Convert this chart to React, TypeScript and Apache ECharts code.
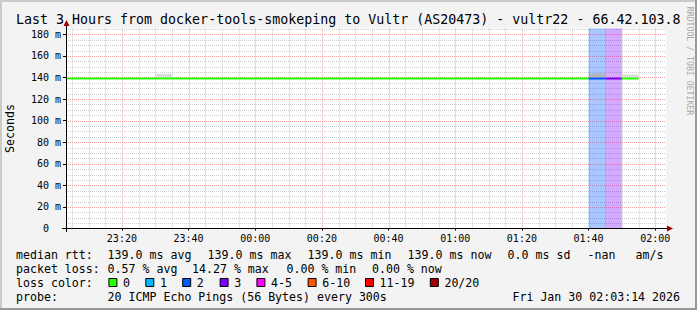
import React, { useEffect, useRef } from 'react';
import * as echarts from 'echarts';

const FONT = '"DejaVu Sans Mono", monospace';

const titleText = 'Last 3 Hours from docker-tools-smokeping to Vultr (AS20473) - vultr22 - 66.42.103.8';
const yAxisName = 'Seconds';
const watermark = 'RRDTOOL / TOBI OETIKER';

const axisStart = '23:03:14';
const axisEnd = '02:03:14';
const xTickLabels = ['23:20', '23:40', '00:00', '00:20', '00:40', '01:00', '01:20', '01:40', '02:00'];
const yTickValues = [0, 20, 40, 60, 80, 100, 120, 140, 160, 180];
const yMax = 185.4;

// median RTT steps (ms)
const segStart = ['23:00', '01:40', '01:45', '01:50'];
const segEnd = ['01:40', '01:45', '01:50', '01:55'];
const segMedian = [139, 139, 139, 139];
const segLossCount = [0, 2, 3, 0];

// loss background bands
const lossBandStart = ['01:40', '01:45'];
const lossBandEnd = ['01:45', '01:50'];
const lossBandCount = [2, 3];

// smoke (ping spread)
const smokeStart = ['23:30', '01:40', '01:50'];
const smokeEnd = ['23:35', '01:45', '01:55'];
const smokeLow = [139, 139, 139];
const smokeHigh = [143.3, 143.6, 142.8];
const smokeDensity = [1, 2, 1];

const lossLegendLabels = ['0', '1', '2', '3', '4-5', '6-10', '11-19', '20/20'];
const lossLegendColors = ['#26ff00', '#00b8ff', '#0059ff', '#7e00ff', '#ff00ff', '#ff5500', '#ff0000', '#a10000'];

const rttStats = ['139.0 ms avg', '139.0 ms max', '139.0 ms min', '139.0 ms now', '0.0 ms sd', '-nan', 'am/s'];
const lossStats = ['0.57 % avg', '14.27 % max', '0.00 % min', '0.00 % now'];
const probeText = '20 ICMP Echo Pings (56 Bytes) every 300s';
const dateText = 'Fri Jan 30 02:03:14 2026';

function toMin(s: string): number {
  const p = s.split(':').map(Number);
  const h = p[0];
  let mins = h * 60 + p[1] + (p[2] || 0) / 60;
  if (h < 12) mins += 24 * 60;
  return mins - 23 * 60;
}
function fmt(v: number): string {
  let t = Math.round(v + 23 * 60) % 1440;
  const h = Math.floor(t / 60);
  const m = t % 60;
  return String(h).padStart(2, '0') + ':' + String(m).padStart(2, '0');
}
function lossIndex(c: number): number {
  if (c <= 3) return c;
  if (c <= 5) return 4;
  if (c <= 10) return 5;
  if (c <= 19) return 6;
  return 7;
}

const xMin = toMin(axisStart);
const xMax = toMin(axisEnd);

const MINOR = '#cdcdcd';
const MAJOR = '#f2a0a0';

export default function App() {
  const ref = useRef<HTMLDivElement>(null);
  useEffect(() => {
    if (!ref.current) return;
    const chart = echarts.init(ref.current, undefined, { renderer: 'svg' });

    const gridItems: number[][] = [];
    for (let v = Math.ceil(xMin / 5) * 5; v < xMax; v += 5) gridItems.push([0, v, v % 20 === 0 ? 1 : 0]);
    for (let v = 5; v < yMax; v += 5) gridItems.push([1, v, v % 20 === 0 ? 1 : 0]);

    const medianData = segStart.map((s, i) => [toMin(s), toMin(segEnd[i]), segMedian[i], lossIndex(segLossCount[i])]);
    const bandData = lossBandStart.map((s, i) => [toMin(s), toMin(lossBandEnd[i]), lossIndex(lossBandCount[i])]);
    const smokeData = smokeStart.map((s, i) => [toMin(s), toMin(smokeEnd[i]), smokeLow[i], smokeHigh[i], smokeDensity[i]]);
    const smokeColors = ['#ffffff', '#dcdcdc', '#b4b4b4'];

    const txt = (x: number, y: number, text: string, size: number, extra: any = {}) => ({
      type: 'text', x, y, z: 100, silent: true,
      style: { text, font: `${size}px ${FONT}`, fill: '#000', textVerticalAlign: 'middle', ...(extra.style || {}) },
      ...(extra.el || {}),
    });

    const LF = 11.6;
    const rows = [255, 269, 283, 297];
    const rttX = [107.6, 207.6, 307.6, 407.6, 507.6, 587.6, 635.6];
    const lossX = [107.6, 192, 286.5, 372];
    const sqX = [108.4, 145.3, 182.2, 219.6, 256.4, 307.6, 365, 429.8];

    const graphics: any[] = [
      { type: 'rect', shape: { x: 0, y: 0, width: 697, height: 2 }, style: { fill: '#cbcbcb' }, z: 100 },
      { type: 'rect', shape: { x: 0, y: 0, width: 2, height: 310 }, style: { fill: '#cbcbcb' }, z: 100 },
      { type: 'rect', shape: { x: 0, y: 308, width: 697, height: 2 }, style: { fill: '#999999' }, z: 101 },
      { type: 'rect', shape: { x: 695, y: 0, width: 2, height: 310 }, style: { fill: '#999999' }, z: 101 },
      txt(16, 19.5, titleText, 13.3),
      txt(10, 128.5, yAxisName, LF, { style: { textAlign: 'center' }, el: { rotation: Math.PI / 2 } }),
      txt(689.5, 61, watermark, 8.2, { style: { textAlign: 'center', fill: '#a8a8a8' }, el: { rotation: -Math.PI / 2 } }),
      // axes
      { type: 'line', z: 100, shape: { x1: 62, y1: 228.5, x2: 668, y2: 228.5 }, style: { stroke: '#000', lineWidth: 1 } },
      { type: 'line', z: 100, shape: { x1: 66.5, y1: 232, x2: 66.5, y2: 25 }, style: { stroke: '#000', lineWidth: 1 } },
      { type: 'polygon', z: 101, shape: { points: [[667, 225.5], [673, 228.5], [667, 231.5]] }, style: { fill: '#a00000' } },
      { type: 'polygon', z: 101, shape: { points: [[63.5, 26], [66.5, 20], [69.5, 26]] }, style: { fill: '#a00000' } },
      // legend
      txt(16, rows[0], 'median rtt:', LF),
      ...rttStats.map((s, i) => txt(rttX[i], rows[0], s, LF)),
      txt(16, rows[1], 'packet loss:', LF),
      ...lossStats.map((s, i) => txt(lossX[i], rows[1], s, LF)),
      txt(16, rows[2], 'loss color:', LF),
      ...lossLegendLabels.map((l, i) => ({
        type: 'rect', z: 100, shape: { x: sqX[i] + 0.5, y: rows[2] - 4.5, width: 8, height: 8 },
        style: { fill: lossLegendColors[i], stroke: '#000', lineWidth: 1 },
      })),
      ...lossLegendLabels.map((l, i) => txt(sqX[i] + 14.6, rows[2], l, LF)),
      txt(16, rows[3], 'probe:', LF),
      txt(107.6, rows[3], probeText, LF),
      txt(680, rows[3], dateText, LF, { style: { textAlign: 'right' } }),
    ];

    chart.setOption({
      animation: false,
      backgroundColor: '#f3f3f3',
      textStyle: { fontFamily: FONT },
      grid: { left: 66, top: 28.5, width: 600, height: 200, show: true, backgroundColor: '#ffffff', borderWidth: 0 },
      xAxis: {
        type: 'value', min: xMin, max: xMax,
        splitLine: { show: false }, axisLine: { show: false },
        axisTick: { show: true, customValues: xTickLabels.map(toMin), length: 2, lineStyle: { color: '#000' } },
        axisLabel: { customValues: xTickLabels.map(toMin), formatter: (v: number) => fmt(v), margin: 5, fontFamily: FONT, fontSize: 10, color: '#000' },
      },
      yAxis: {
        type: 'value', min: 0, max: yMax,
        splitLine: { show: false }, axisLine: { show: false },
        axisTick: { show: true, customValues: yTickValues, length: 3, lineStyle: { color: '#000' } },
        axisLabel: {
          customValues: yTickValues,
          formatter: (v: number) => (v === 0 ? '{z|0}' : `${v} m`),
          rich: { z: { padding: [0, 12, 0, 0], fontFamily: FONT, fontSize: 10, color: '#000' } },
          margin: 5, fontFamily: FONT, fontSize: 10, color: '#000',
        },
      },
      graphic: { elements: graphics },
      series: [
        {
          type: 'custom', silent: true, z: 1, data: gridItems,
          renderItem: (params: any, api: any) => {
            const cs = params.coordSys;
            const kind = api.value(0), v = api.value(1), major = api.value(2);
            const style = { stroke: major ? MAJOR : MINOR, lineWidth: 1, lineDash: [1, 1] };
            if (kind === 0) {
              const p = api.coord([v, 0]);
              const x = Math.round(p[0]) + 0.5;
              return { type: 'line', shape: { x1: x, y1: cs.y, x2: x, y2: cs.y + cs.height }, style };
            }
            const p = api.coord([xMin, v]);
            const y = Math.round(p[1]) + 0.5;
            return { type: 'line', shape: { x1: cs.x, y1: y, x2: cs.x + cs.width, y2: y }, style };
          },
        },
        {
          type: 'custom', silent: true, z: 2, data: bandData,
          renderItem: (params: any, api: any) => {
            const cs = params.coordSys;
            const a = api.coord([api.value(0), 0]);
            const b = api.coord([api.value(1), 0]);
            return {
              type: 'rect', shape: { x: a[0], y: cs.y, width: b[0] - a[0], height: cs.height },
              style: { fill: lossLegendColors[api.value(2)], opacity: 0.333 },
            };
          },
        },
        {
          type: 'custom', silent: true, z: 3, data: smokeData,
          renderItem: (params: any, api: any) => {
            const a = api.coord([api.value(0), api.value(3)]);
            const b = api.coord([api.value(1), api.value(2)]);
            return {
              type: 'rect', shape: { x: a[0], y: a[1], width: b[0] - a[0], height: b[1] - a[1] },
              style: { fill: smokeColors[api.value(4)] },
            };
          },
        },
        {
          type: 'custom', silent: true, z: 4, data: medianData,
          renderItem: (params: any, api: any) => {
            const cs = params.coordSys;
            const a = api.coord([api.value(0), api.value(2)]);
            const b = api.coord([api.value(1), api.value(2)]);
            return {
              type: 'line', shape: { x1: Math.max(a[0], cs.x), y1: a[1], x2: b[0], y2: b[1] },
              style: { stroke: lossLegendColors[api.value(3)], lineWidth: 2 },
            };
          },
        },
      ],
    });
    return () => chart.dispose();
  }, []);
  return (
    <div
      ref={ref}
      style={{ position: 'absolute', left: 0, top: 0, width: 697, height: 310, background: '#f3f3f3' }}
    />
  );
}
